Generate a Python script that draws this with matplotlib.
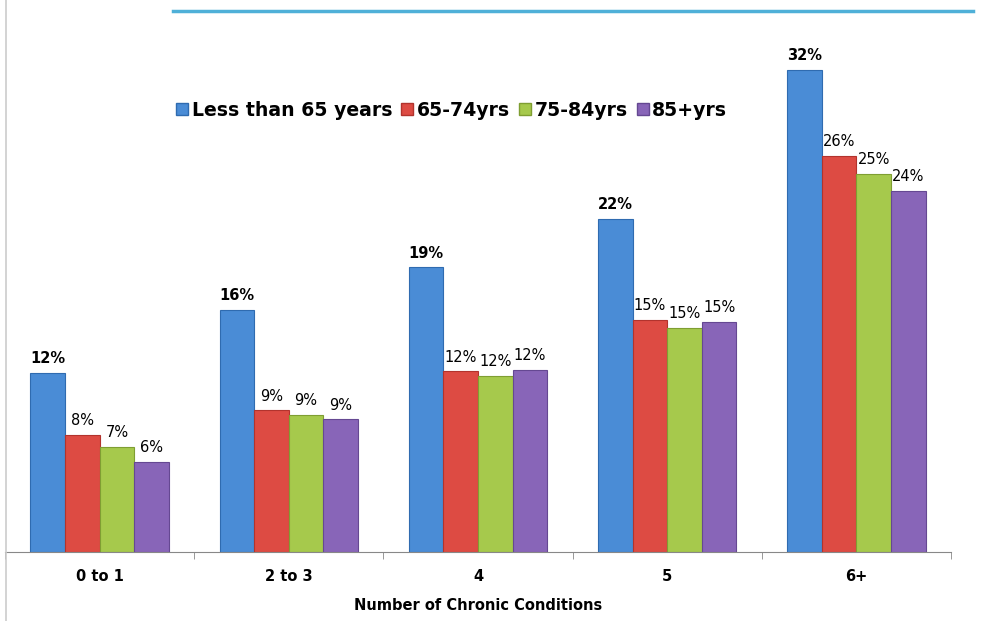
import numpy as np
import matplotlib.pyplot as plt
from matplotlib.lines import Line2D

categories = ['0 to 1', '2 to 3', '4', '5', '6+']
series_names = ['Less than 65 years', '65-74yrs', '75-84yrs', '85+yrs']
under_65 = [11.9, 16.1, 18.9, 22.1, 32.0]
age_65_74 = [7.8, 9.4, 12.0, 15.4, 26.3]
age_75_84 = [7.0, 9.1, 11.7, 14.9, 25.1]
age_85_up = [6.0, 8.8, 12.1, 15.3, 24.0]
colors = ['#4A8CD6', '#DD4B43', '#A6C94C', '#8865B8']
edges = ['#2F6BB0', '#B2332D', '#7F9E32', '#654892']

plt.rcParams['font.family'] = ['DejaVu Sans']

fig = plt.figure(figsize=(9.93, 6.21), dpi=100)
ax = fig.add_axes([5 / 993, 69 / 621, 946 / 993, 512 / 621])

x = np.arange(len(categories))
w = 0.183
all_vals = [under_65, age_65_74, age_75_84, age_85_up]
for i, (vals, c, ec) in enumerate(zip(all_vals, colors, edges)):
    pos = x + (i - 1.5) * w
    ax.bar(pos, vals, width=w, color=c, edgecolor=ec, linewidth=0.8)
    for p, v in zip(pos, vals):
        ax.text(p, v + 0.45, f"{v:.0f}%", ha='center', va='bottom', fontsize=10.5,
                fontweight='bold' if i == 0 else 'normal', color='black')

ax.set_xlim(-0.5, len(categories) - 0.5)
ax.set_ylim(0, 34)
ax.set_xticks(x)
ax.set_xticklabels(categories, fontsize=10.5, fontweight='bold')
ax.set_xticks(np.arange(len(categories) + 1) - 0.5, minor=True)
ax.tick_params(axis='x', which='major', length=0, pad=12)
ax.tick_params(axis='x', which='minor', length=5, color='#888888', direction='out')
ax.set_yticks([])
for s in ['top', 'right', 'left']:
    ax.spines[s].set_visible(False)
ax.spines['bottom'].set_color('#888888')
ax.set_xlabel('Number of Chronic Conditions', fontsize=10.5, fontweight='bold', labelpad=10)

handles = [Line2D([], [], marker='s', linestyle='none', markersize=8,
                  markerfacecolor=c, markeredgecolor=ec)
           for c, ec in zip(colors, edges)]
fig.legend(handles, series_names, loc='center', bbox_to_anchor=(452 / 993, 1 - 110 / 621),
           ncol=4, frameon=False, prop={'weight': 'bold', 'size': 13.6},
           handlelength=0.6, handletextpad=0.2, columnspacing=0.5)

# decorative lines
fig.add_artist(Line2D([173 / 993, 973 / 993], [1 - 10.5 / 621] * 2, color='#4FB0D8', linewidth=2.5))
fig.add_artist(Line2D([5.5 / 993] * 2, [0, 1], color='#CCCCCC', linewidth=1.2))

fig.savefig('out.png', dpi=100)
